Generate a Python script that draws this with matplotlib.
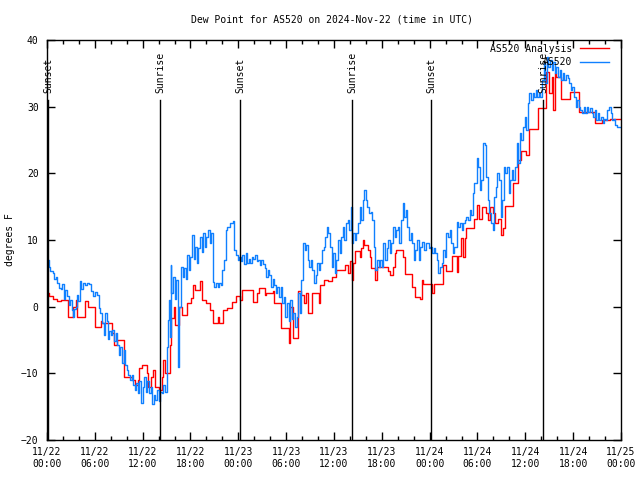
import pandas as pd
import matplotlib
matplotlib.use("Agg")
import matplotlib.pyplot as plt
import matplotlib.dates as mdates

plt.rcParams['font.family'] = ['DejaVu Sans Mono']

start = pd.Timestamp("2024-11-22 00:00")

# AS520 observations (hours after 11/22 00:00 UTC, dew point F)
obs_hours = [
    0.0, 0.2, 0.4, 0.7, 0.9, 1.1, 1.3, 1.5, 1.7, 1.9, 2.1, 2.3, 2.5, 2.7, 2.9, 3.1, 3.2, 3.4, 3.6, 3.8,
    3.9, 4.1, 4.3, 4.5, 4.8, 5.0, 5.3, 5.5, 5.8, 6.0, 6.3, 6.5, 6.7, 6.9, 7.1, 7.3, 7.5, 7.6, 7.8, 8.0,
    8.2, 8.4, 8.6, 8.8, 9.0, 9.2, 9.4, 9.6, 9.8, 10.0, 10.2, 10.4, 10.6, 10.8, 11.0, 11.2, 11.4, 11.6, 11.8, 12.0,
    12.2, 12.4, 12.6, 12.8, 13.0, 13.2, 13.4, 13.6, 13.8, 14.0, 14.2, 14.4, 14.6, 14.8, 15.0, 15.2, 15.3, 15.4, 15.5, 15.6,
    15.8, 16.0, 16.2, 16.4, 16.6, 16.8, 17.0, 17.2, 17.4, 17.6, 17.8, 18.0, 18.2, 18.4, 18.6, 18.8, 19.0, 19.2, 19.4, 19.6,
    19.8, 20.0, 20.2, 20.4, 20.6, 20.8, 21.0, 21.2, 21.4, 21.6, 21.8, 22.0, 22.2, 22.4, 22.6, 22.8, 23.0, 23.3, 23.5, 23.7,
    23.9, 24.1, 24.3, 24.5, 24.7, 24.9, 25.1, 25.3, 25.5, 25.7, 25.9, 26.1, 26.3, 26.5, 26.7, 26.9, 27.1, 27.3, 27.5, 27.7,
    27.9, 28.1, 28.3, 28.5, 28.7, 28.9, 29.1, 29.3, 29.5, 29.7, 29.9, 30.1, 30.3, 30.5, 30.7, 30.9, 31.1, 31.3, 31.5, 31.7,
    31.9, 32.1, 32.3, 32.5, 32.7, 32.9, 33.1, 33.3, 33.5, 33.7, 33.9, 34.1, 34.3, 34.5, 34.7, 34.9, 35.1, 35.3, 35.5, 35.7,
    35.9, 36.1, 36.3, 36.5, 36.7, 36.9, 37.1, 37.3, 37.5, 37.7, 37.9, 38.1, 38.2, 38.4, 38.6, 38.8, 39.0, 39.2, 39.4, 39.6,
    39.8, 40.0, 40.2, 40.4, 40.6, 40.8, 41.0, 41.2, 41.4, 41.6, 41.8, 42.0, 42.2, 42.4, 42.6, 42.8, 43.0, 43.2, 43.4, 43.6,
    43.8, 44.0, 44.2, 44.4, 44.6, 44.8, 45.0, 45.2, 45.4, 45.6, 45.8, 46.0, 46.2, 46.4, 46.6, 46.8, 47.0, 47.3, 47.6, 47.9,
    48.1, 48.3, 48.5, 48.7, 48.9, 49.1, 49.3, 49.5, 49.7, 49.9, 50.1, 50.3, 50.5, 50.7, 50.9, 51.1, 51.4, 51.6, 51.8, 52.0,
    52.2, 52.4, 52.6, 52.8, 53.0, 53.2, 53.4, 53.6, 53.8, 53.9, 54.1, 54.3, 54.5, 54.7, 54.9, 55.1, 55.3, 55.5, 55.7, 55.9,
    56.1, 56.3, 56.5, 56.7, 56.9, 57.1, 57.3, 57.5, 57.7, 57.9, 58.1, 58.3, 58.5, 58.7, 58.9, 59.1, 59.3, 59.5, 59.7, 59.9,
    60.1, 60.3, 60.5, 60.7, 60.9, 61.1, 61.3, 61.5, 61.7, 61.9, 62.1, 62.3, 62.5, 62.7, 62.9, 63.1, 63.3, 63.5, 63.7, 63.9,
    64.1, 64.3, 64.5, 64.7, 64.9, 65.1, 65.3, 65.5, 65.7, 65.9, 66.1, 66.3, 66.5, 66.7, 66.9, 67.1, 67.3, 67.5, 67.7, 67.9,
    68.1, 68.3, 68.5, 68.7, 68.9, 69.1, 69.3, 69.5, 69.7, 69.9, 70.1, 70.3, 70.5, 70.7, 70.9, 71.1, 71.3, 71.5, 71.8, 72.0,
]
obs_dewp = [
    7.0, 6.0, 5.3, 5.0, 4.2, 4.5, 3.5, 2.8, 2.6, 3.4, 1.2, 2.5, 1.6, 0.2, 1.0, -0.5, -1.6, -0.3, 0.0, 1.8,
    0.8, 3.8, 2.6, 3.6, 3.3, 3.6, 3.4, 2.4, 1.6, 2.2, 1.8, -0.2, -1.0, -2.5, -4.3, -1.0, -2.2, -4.8, -3.6, -4.3,
    -3.5, -5.2, -4.0, -5.8, -7.2, -6.0, -8.5, -6.5, -8.8, -9.5, -10.3, -11.0, -10.2, -11.8, -12.5, -11.5, -13.0, -11.2, -14.5, -12.0,
    -10.5, -12.8, -11.2, -13.0, -12.0, -14.6, -13.2, -14.0, -12.5, -14.2, -12.8, -13.0, -11.8, -12.8, -6.0, -2.0, 1.0, -4.5, 6.3, 2.0,
    4.5, 1.2, 4.0, -9.0, 0.0, 6.0, 4.5, 5.8, 4.2, 7.8, 5.5, 7.5, 10.8, 7.2, 9.0, 6.5, 8.8, 10.5, 8.2, 11.0,
    9.0, 10.5, 11.5, 9.5, 11.0, 3.7, 3.0, 3.5, 3.0, 3.6, 3.2, 5.5, 7.0, 11.5, 12.0, 12.0, 12.6, 12.8, 8.5, 7.7,
    7.0, 7.5, 6.8, 7.8, 6.4, 8.0, 6.5, 7.2, 6.6, 7.5, 7.2, 7.8, 6.8, 7.0, 6.2, 7.0, 6.4, 5.8, 4.5, 5.5,
    4.8, 3.0, 4.2, 3.2, 2.0, 3.0, 1.5, 3.0, 0.5, 1.5, -1.5, 0.5, -2.2, 1.0, -1.8, -1.0, -3.0, -1.5, 2.0, -1.0,
    4.0, 9.5, 8.5, 9.2, 7.0, 6.0, 7.0, 5.5, 3.5, 4.8, 6.5, 5.5, 6.5, 8.5, 9.0, 10.5, 12.0, 11.0, 9.0, 6.0,
    8.0, 5.0, 7.0, 10.0, 8.0, 10.5, 12.0, 10.0, 12.5, 13.0, 11.5, 15.0, 9.5, 11.0, 10.0, 11.0, 12.5, 15.0, 13.0, 16.0,
    17.5, 16.0, 15.0, 14.0, 14.2, 13.0, 9.0, 5.5, 7.0, 6.0, 7.0, 6.0, 9.5, 7.0, 8.8, 10.0, 8.0, 9.5, 12.0, 10.5,
    11.5, 12.0, 9.5, 13.0, 15.5, 13.5, 14.5, 12.0, 10.0, 11.0, 9.5, 7.0, 8.5, 10.0, 7.0, 9.0, 9.7, 8.5, 9.5, 8.8,
    9.0, 8.0, 8.8, 8.0, 7.0, 5.0, 6.0, 6.5, 8.5, 7.5, 11.0, 10.5, 11.5, 9.5, 8.0, 9.0, 12.7, 12.0, 12.5, 11.5,
    12.5, 13.0, 13.5, 13.0, 14.5, 13.8, 17.0, 18.5, 18.5, 22.3, 21.0, 17.5, 19.0, 24.5, 24.2, 19.5, 16.0, 14.0, 12.5, 11.5,
    16.5, 18.0, 20.0, 19.0, 13.5, 16.0, 21.0, 20.0, 21.0, 17.0, 19.0, 20.5, 19.0, 21.0, 24.5, 21.5, 26.0, 25.0, 27.0, 28.5,
    26.5, 30.5, 32.0, 31.0, 32.0, 31.5, 32.5, 31.5, 32.0, 31.5, 34.0, 36.5, 33.5, 37.5, 36.0, 37.0, 35.5, 36.7, 35.0, 36.0,
    34.5, 35.5, 34.0, 35.0, 34.0, 34.8, 34.3, 33.5, 32.5, 33.0, 31.5, 30.0, 31.0, 30.0, 29.5, 29.0, 30.0, 29.0, 30.0, 29.2,
    29.8, 29.0, 28.5, 29.5, 28.0, 29.0, 28.0, 28.5, 27.5, 28.2, 28.0, 29.5, 30.0, 29.0, 28.0, 28.2, 27.2, 27.0, 27.0, 27.0,
]

# AS520 analysis (step values)
ana_hours = [
    0.0, 0.3, 0.8, 1.2, 1.8, 2.6, 3.3, 3.6, 3.8, 4.8, 5.1, 6.0, 6.8, 6.9, 8.1, 8.4, 8.8, 9.6, 10.6, 11.0,
    11.4, 11.6, 11.9, 12.5, 12.7, 13.1, 13.3, 13.5, 14.0, 14.4, 14.6, 14.8, 15.4, 15.5, 15.9, 16.1, 16.5, 16.9, 17.5, 18.1,
    18.3, 18.6, 19.2, 19.4, 20.0, 20.4, 20.8, 21.4, 21.6, 22.1, 22.6, 23.2, 23.7, 24.2, 24.4, 25.8, 26.4, 26.6, 27.3, 27.5,
    28.3, 28.5, 29.4, 30.3, 30.5, 30.9, 31.5, 31.8, 32.2, 32.5, 32.8, 33.3, 34.1, 34.3, 34.8, 35.2, 35.8, 36.2, 37.4, 37.8,
    38.0, 38.3, 38.4, 38.6, 39.2, 39.4, 39.6, 39.8, 40.3, 40.5, 40.7, 41.2, 41.4, 42.8, 43.0, 43.4, 43.6, 43.8, 44.7, 44.9,
    45.8, 46.1, 46.8, 47.0, 47.2, 48.3, 48.6, 49.7, 50.0, 50.8, 51.4, 51.6, 51.9, 52.2, 52.4, 52.6, 53.6, 53.9, 54.2, 54.6,
    55.1, 55.3, 55.6, 55.9, 56.2, 56.6, 56.9, 57.2, 57.4, 58.4, 59.1, 59.5, 60.1, 60.5, 61.6, 62.6, 63.0, 63.3, 63.5, 63.7,
    63.9, 64.5, 65.6, 66.7, 68.7, 69.6, 70.6, 72.0,
]
ana_dewp = [
    2.1, 1.6, 1.2, 0.9, 1.0, -1.5, 0.0, 1.0, -1.5, 0.8, 0.0, -3.0, -2.2, -2.5, -4.0, -5.8, -5.0, -10.5, -11.0, -11.8,
    -11.0, -9.2, -8.7, -10.0, -12.0, -10.5, -9.5, -12.0, -12.5, -10.5, -8.0, -10.0, -5.7, -1.7, 0.0, -2.8, 0.0, -1.2, 0.5, 1.3,
    3.2, 2.5, 3.8, 1.0, 0.5, -0.5, -2.5, -1.5, -2.5, -0.5, -0.2, 0.7, 1.6, 1.0, 2.5, 0.7, 2.0, 2.8, 1.7, 2.0,
    2.3, 0.5, -3.2, -5.5, 0.0, -4.7, 2.4, 1.8, 0.5, 2.0, -1.0, 2.0, 0.5, 3.3, 4.0, 3.8, 4.5, 5.5, 6.2, 5.0,
    6.8, 4.0, 6.5, 8.3, 7.5, 8.8, 10.0, 9.3, 8.5, 7.5, 5.8, 4.0, 6.0, 5.3, 4.8, 6.0, 8.0, 8.5, 7.5, 4.9,
    3.0, 1.5, 1.1, 4.0, 3.4, 2.0, 3.4, 6.2, 5.3, 7.6, 5.2, 7.6, 10.3, 7.5, 10.3, 11.8, 13.2, 15.3, 13.2, 15.0,
    14.0, 13.0, 15.0, 14.0, 12.5, 13.2, 10.7, 11.8, 15.1, 18.5, 22.0, 23.3, 22.8, 26.6, 29.8, 35.2, 32.0, 34.5, 29.5, 35.0,
    34.5, 31.2, 32.2, 29.2, 27.5, 28.0, 28.2, 28.2,
]

event_hours = [0.15, 14.2, 24.2, 38.25, 48.2, 62.25]
event_names = ["Sunset", "Sunrise", "Sunset", "Sunrise", "Sunset", "Sunrise"]

obs_t = start + pd.to_timedelta(obs_hours, unit="h")
ana_t = start + pd.to_timedelta(ana_hours, unit="h")
event_t = start + pd.to_timedelta(event_hours, unit="h")

fig = plt.figure(figsize=(6.4, 4.8), dpi=100)
ax = fig.add_axes([47 / 640, 40 / 480, 574 / 640, 400 / 480])

ax.plot(ana_t, ana_dewp, drawstyle="steps-post", color="#ff0000", lw=1, label="AS520 Analysis")
ax.plot(obs_t, obs_dewp, drawstyle="steps-post", color="#1080ff", lw=1, label="AS520")

for t, name in zip(event_t, event_names):
    ax.plot([t, t], [-20, 31], color="black", lw=1)
    ax.text(t, 32, name, rotation=90, ha="center", va="bottom", fontsize=7)

ax.set_xlim(start, start + pd.Timedelta(hours=72))
ax.set_ylim(-20, 40)
ax.set_yticks(range(-20, 41, 10))
ax.xaxis.set_major_locator(mdates.HourLocator(byhour=[0, 6, 12, 18]))
ax.xaxis.set_minor_locator(mdates.HourLocator(interval=2))
ax.xaxis.set_major_formatter(mdates.DateFormatter("%m/%d\n%H:%M"))

ax.tick_params(which="both", direction="in", top=True, right=True, labelsize=7)
ax.tick_params(which="major", length=6, width=1)
ax.tick_params(which="minor", length=3, width=1)
ax.tick_params(axis="x", pad=5)
ax.tick_params(axis="y", pad=6)
for s in ax.spines.values():
    s.set_linewidth(1)

ax.set_ylabel("degrees F", fontsize=7)
ax.yaxis.set_label_coords(-0.056, 0.5)

fig.text(332 / 640, 1 - 19 / 480, "Dew Point for AS520 on 2024-Nov-22 (time in UTC)",
         ha="center", va="center", fontsize=7)

ax.legend(loc="upper right", bbox_to_anchor=(0.99, 1.005), frameon=False, markerfirst=False,
          fontsize=7, handlelength=3.0, labelspacing=0.35, borderaxespad=0.2, handletextpad=0.8)

fig.savefig("out.png", dpi=100)
